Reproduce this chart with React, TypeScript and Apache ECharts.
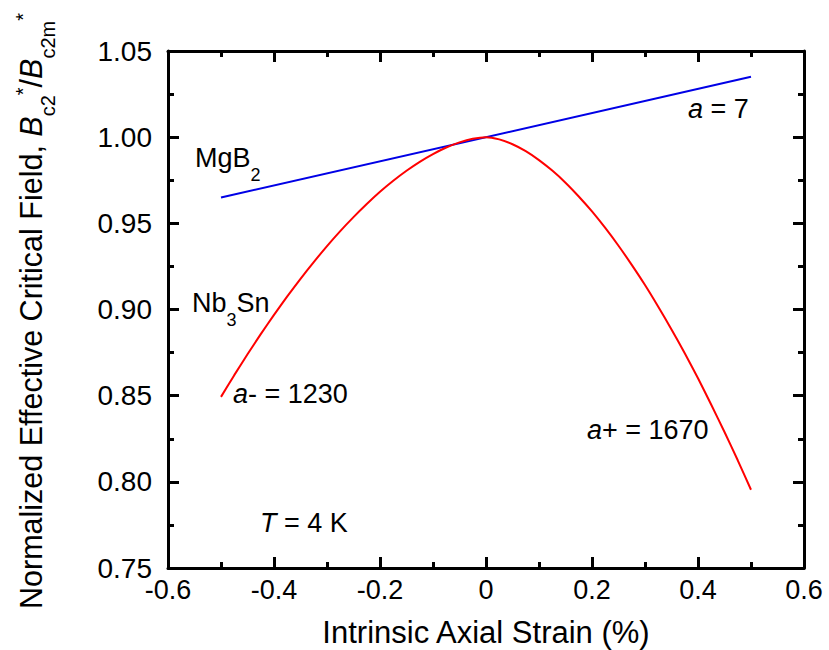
import React, { useEffect, useRef } from "react";
import * as echarts from "echarts";

// ---- data ----
const nb3snStrain = [
  -0.5, -0.475, -0.45, -0.425, -0.4, -0.375, -0.35, -0.325, -0.3, -0.275, -0.25,
  -0.225, -0.2, -0.175, -0.15, -0.125, -0.1, -0.075, -0.05, -0.025, 0,
  0.025, 0.05, 0.075, 0.1, 0.125, 0.15, 0.175, 0.2, 0.225, 0.25,
  0.275, 0.3, 0.325, 0.35, 0.375, 0.4, 0.425, 0.45, 0.475, 0.5,
];
const nb3snRatio = [
  0.8493, 0.8619, 0.874, 0.8857, 0.8969, 0.9076, 0.9178, 0.9275, 0.9368, 0.9455, 0.9536,
  0.9612, 0.9683, 0.9747, 0.9805, 0.9857, 0.9902, 0.994, 0.997, 0.9991, 1.0,
  0.9987, 0.9959, 0.9919, 0.9867, 0.9806, 0.9736, 0.9656, 0.9569, 0.9473, 0.937,
  0.9259, 0.9142, 0.9016, 0.8884, 0.8746, 0.8601, 0.8447, 0.8289, 0.8125, 0.7954,
];
const mgb2Strain = [-0.5, 0.5];
const mgb2Ratio = [0.965, 1.035];

const xMin = -0.6;
const xMax = 0.6;
const xStep = 0.2;
const yMin = 0.75;
const yMax = 1.05;
const yStep = 0.05;

const xTitle = "Intrinsic Axial Strain (%)";
const yTitleMain = "Normalized Effective Critical Field, ";

const FONT = '"Liberation Sans", Arial, Helvetica, sans-serif';

type Kind = "n" | "i" | "sub" | "sup";
type Piece = [string, Kind];

let measureCtx: CanvasRenderingContext2D | null = null;
function textWidth(text: string, size: number, italic: boolean) {
  if (!measureCtx) measureCtx = document.createElement("canvas").getContext("2d");
  if (!measureCtx) return text.length * size * 0.55;
  measureCtx.font = `${italic ? "italic " : ""}${size}px ${FONT}`;
  return measureCtx.measureText(text).width;
}

// lay out a run of pieces left-to-right on a baseline
function layoutPieces(pieces: Piece[], F: number, f: number, d: number, u: number, x0: number, baseline: number) {
  let x = x0;
  const els: any[] = [];
  for (const [t, kind] of pieces) {
    const small = kind === "sub" || kind === "sup";
    const size = small ? f : F;
    const italic = kind === "i";
    const base = kind === "sub" ? baseline + d : kind === "sup" ? baseline - u : baseline;
    els.push({
      type: "text",
      x,
      y: base - 0.3465 * size,
      silent: true,
      style: {
        text: t,
        font: `${italic ? "italic " : ""}${size}px ${FONT}`,
        fill: "#000",
        align: "left",
        verticalAlign: "middle",
      },
    });
    x += textWidth(t, size, italic);
  }
  return { els, width: x - x0 };
}

function runWidth(pieces: Piece[], F: number, f: number) {
  let w = 0;
  for (const [t, kind] of pieces) {
    const small = kind === "sub" || kind === "sup";
    w += textWidth(t, small ? f : F, kind === "i");
  }
  return w;
}

const ANN_F = 27;
function ann(x: number, baseline: number, pieces: Piece[]) {
  return layoutPieces(pieces, ANN_F, 18, 14, 10, x, baseline).els;
}

function axisParts() {
  return {
    axisLine: { show: true, onZero: false, lineStyle: { color: "#000", width: 3 } },
    axisTick: { show: true, inside: true, length: 11, lineStyle: { color: "#000", width: 3 } },
    minorTick: { show: true, splitNumber: 2, length: 6, lineStyle: { color: "#000", width: 3 } },
    splitLine: { show: false },
  };
}

export default function App() {
  const ref = useRef<HTMLDivElement>(null);
  useEffect(() => {
    if (!ref.current) return;
    const chart = echarts.init(ref.current, undefined, { renderer: "svg" });

    const titlePieces: Piece[] = [
      [yTitleMain, "n"], ["B", "i"], ["c2", "sub"], ["*", "sup"],
      ["/", "n"], ["B", "i"], ["c2m", "sub"], ["*", "sup"],
    ];
    const TF = 30.5, tf = 20;
    const tW = runWidth(titlePieces, TF, tf);
    const titleEls = layoutPieces(titlePieces, TF, tf, 13, 12, -tW / 2, 0).els;

    const graphics: any[] = [
      {
        type: "text",
        x: 486,
        y: 632,
        silent: true,
        style: {
          text: xTitle,
          font: `31px ${FONT}`,
          fill: "#000",
          align: "center",
          verticalAlign: "middle",
        },
      },
      { type: "group", x: 42, y: 311, rotation: Math.PI / 2, silent: true, children: titleEls },
      ...ann(688, 118, [["a", "i"], [" = 7", "n"]]),
      ...ann(195, 167, [["MgB", "n"], ["2", "sub"]]),
      ...ann(192, 312, [["Nb", "n"], ["3", "sub"], ["Sn", "n"]]),
      ...ann(233, 403, [["a", "i"], ["- = 1230", "n"]]),
      ...ann(587, 439, [["a", "i"], ["+ = 1670", "n"]]),
      ...ann(260, 532, [["T", "i"], [" = 4 K", "n"]]),
    ];

    chart.setOption({
      animation: false,
      grid: { left: 168, right: 25, top: 51, bottom: 82 },
      xAxis: [
        {
          type: "value",
          min: xMin,
          max: xMax,
          interval: xStep,
          position: "bottom",
          ...axisParts(),
          axisLabel: {
            show: true,
            margin: 8,
            color: "#000",
            fontSize: 27,
            fontFamily: FONT,
            formatter: (v: number) => (Math.abs(v) < 1e-9 ? "0" : v.toFixed(1)),
          },
        },
        {
          type: "value",
          min: xMin,
          max: xMax,
          interval: xStep,
          position: "top",
          ...axisParts(),
          axisLabel: { show: false },
        },
      ],
      yAxis: [
        {
          type: "value",
          min: yMin,
          max: yMax,
          interval: yStep,
          position: "left",
          ...axisParts(),
          axisLabel: {
            show: true,
            margin: 16,
            color: "#000",
            fontSize: 28,
            fontFamily: FONT,
            formatter: (v: number) => v.toFixed(2),
          },
        },
        {
          type: "value",
          min: yMin,
          max: yMax,
          interval: yStep,
          position: "right",
          ...axisParts(),
          axisLabel: { show: false },
        },
      ],
      series: [
        {
          name: "MgB2",
          type: "line",
          xAxisIndex: 0,
          yAxisIndex: 0,
          showSymbol: false,
          symbol: "none",
          lineStyle: { color: "#0000e6", width: 2 },
          data: mgb2Strain.map((x, k) => [x, mgb2Ratio[k]]),
        },
        {
          name: "Nb3Sn",
          type: "line",
          xAxisIndex: 0,
          yAxisIndex: 0,
          showSymbol: false,
          symbol: "none",
          smooth: 0.2,
          lineStyle: { color: "#ff0000", width: 2 },
          data: nb3snStrain.map((x, k) => [x, nb3snRatio[k]]),
        },
      ],
      graphic: graphics,
    });
    return () => chart.dispose();
  }, []);
  return (
    <div
      ref={ref}
      style={{ position: "fixed", left: 0, top: 0, width: 829, height: 650, background: "#fff" }}
    />
  );
}
